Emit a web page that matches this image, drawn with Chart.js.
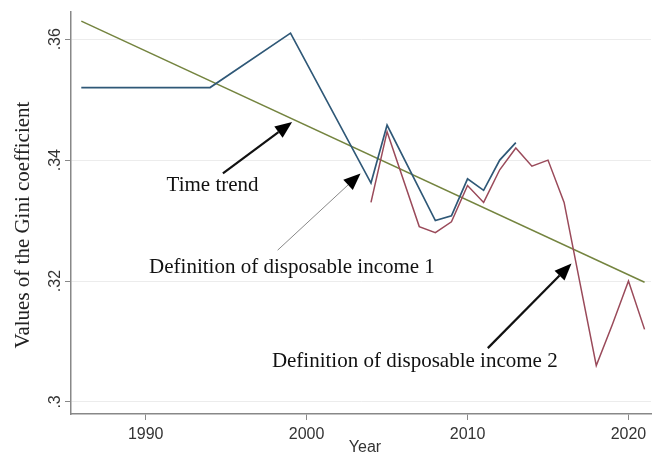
<!DOCTYPE html>
<html>
<head>
<meta charset="utf-8">
<script src="https://cdn.jsdelivr.net/npm/chart.js@4.4.1/dist/chart.umd.min.js"></script>
<style>
  html, body { margin: 0; padding: 0; background: #fff; }
</style>
</head>
<body>
<canvas id="gini" width="652" height="457"></canvas>
<script>
// definition 1 (blue)
const blueYears = [1986, 1994, 1999, 2004, 2005, 2008, 2009, 2010, 2011, 2012, 2013];
const blueGini  = [0.352, 0.352, 0.361, 0.3362, 0.3458, 0.330, 0.3308, 0.3369, 0.335, 0.340, 0.3429];
// definition 2 (red)
const redYears = [2004, 2005, 2007, 2008, 2009, 2010, 2011, 2012, 2013, 2014, 2015, 2016, 2017, 2018, 2019, 2020, 2021];
const redGini  = [0.333, 0.3447, 0.329, 0.328, 0.3298, 0.3358, 0.333, 0.3384, 0.342, 0.339, 0.340, 0.333, 0.3195, 0.306, 0.3128, 0.320, 0.312];
// linear time trend
const trendYears = [1986, 2021];
const trendGini  = [0.363, 0.3198];

const yearTicks = [1990, 2000, 2010, 2020];
const giniTicks = [0.30, 0.32, 0.34, 0.36];

function pts(xs, ys) {
  return xs.map(function (x, i) { return { x: x, y: ys[i] }; });
}

// labels + arrows, placed in data units
const notes = [
  { text: 'Time trend', x: 1991.3, y: 0.3349, align: 'left',
    from: [1994.8, 0.3378], to: [1999.1, 0.3463], shaft: '#111', lw: 2.2 },
  { text: 'Definition of disposable income 1', x: 2007.97, y: 0.3213, align: 'right',
    from: [1998.2, 0.3251], to: [2003.35, 0.3378], shaft: '#888', lw: 1 },
  { text: 'Definition of disposable income 2', x: 2015.6, y: 0.3058, align: 'right',
    from: [2011.26, 0.3089], to: [2016.46, 0.3229], shaft: '#111', lw: 2.2 }
];

const extras = {
  id: 'extras',
  afterDraw: function (chart) {
    const ctx = chart.ctx;
    const xs = chart.scales.x, ys = chart.scales.y;
    ctx.save();
    // y tick labels, rotated like stata does
    ctx.fillStyle = '#333';
    ctx.font = '16px "Liberation Sans", Arial, sans-serif';
    ctx.textAlign = 'center';
    ctx.textBaseline = 'middle';
    giniTicks.forEach(function (v) {
      ctx.save();
      ctx.translate(56, ys.getPixelForValue(v));
      ctx.rotate(-Math.PI / 2);
      ctx.fillText(String(Number(v.toFixed(2))).replace(/^0/, ''), 0, 0);
      ctx.restore();
    });
    // axis titles
    ctx.save();
    ctx.font = '21px "Liberation Serif", "Times New Roman", serif';
    ctx.fillStyle = '#222';
    ctx.translate(23, 225);
    ctx.rotate(-Math.PI / 2);
    ctx.fillText('Values of the Gini coefficient', 0, 0);
    ctx.restore();
    ctx.font = '16px "Liberation Sans", Arial, sans-serif';
    ctx.fillText('Year', 365, 448);

    // annotations
    notes.forEach(function (n) {
      const x0 = xs.getPixelForValue(n.from[0]), y0 = ys.getPixelForValue(n.from[1]);
      const x1 = xs.getPixelForValue(n.to[0]), y1 = ys.getPixelForValue(n.to[1]);
      const a = Math.atan2(y1 - y0, x1 - x0);
      const hl = 17, hw = 7;
      const bx = x1 - hl * Math.cos(a), by = y1 - hl * Math.sin(a);
      ctx.strokeStyle = n.shaft;
      ctx.lineWidth = n.lw;
      ctx.beginPath();
      ctx.moveTo(x0, y0);
      ctx.lineTo(bx, by);
      ctx.stroke();
      ctx.fillStyle = '#000';
      ctx.beginPath();
      ctx.moveTo(x1, y1);
      ctx.lineTo(bx + hw * Math.sin(a), by - hw * Math.cos(a));
      ctx.lineTo(bx - hw * Math.sin(a), by + hw * Math.cos(a));
      ctx.closePath();
      ctx.fill();

      ctx.font = '21px "Liberation Serif", "Times New Roman", serif';
      ctx.fillStyle = '#111';
      ctx.textAlign = n.align;
      ctx.textBaseline = 'alphabetic';
      ctx.fillText(n.text, xs.getPixelForValue(n.x), ys.getPixelForValue(n.y));
    });
    ctx.restore();
  }
};

const chart = new Chart(document.getElementById('gini'), {
  type: 'line',
  data: {
    datasets: [
      { label: 'Definition 1', data: pts(blueYears, blueGini), borderColor: '#2f5877', borderWidth: 1.7 },
      { label: 'Definition 2', data: pts(redYears, redGini), borderColor: '#9a4a5a', borderWidth: 1.5 },
      { label: 'Time trend', data: pts(trendYears, trendGini), borderColor: '#74843f', borderWidth: 1.5 }
    ]
  },
  options: {
    responsive: false,
    animation: false,
    layout: { padding: { top: 12, right: 1, left: 0, bottom: 0 } },
    elements: { point: { radius: 0 }, line: { tension: 0 } },
    plugins: { legend: { display: false }, tooltip: { enabled: false } },
    scales: {
      x: {
        type: 'linear',
        min: 1985.36,
        max: 2021.4,
        afterBuildTicks: function (s) { s.ticks = yearTicks.map(function (v) { return { value: v }; }); },
        afterFit: function (s) { s.height = 43; },
        grid: { drawOnChartArea: false, drawTicks: true, tickLength: 6, tickColor: '#888' },
        border: { color: '#888', width: 1.5 },
        ticks: {
          color: '#333', padding: 5, maxRotation: 0,
          font: { family: '"Liberation Sans", Arial, sans-serif', size: 16 },
          callback: function (v) { return String(v); }
        }
      },
      y: {
        min: 0.298,
        max: 0.3645,
        afterBuildTicks: function (s) { s.ticks = giniTicks.map(function (v) { return { value: v }; }); },
        afterFit: function (s) { s.width = 71; },
        grid: { color: '#ececec', lineWidth: 1, drawTicks: true, tickLength: 6, tickColor: '#888' },
        border: { color: '#888', width: 1.5 },
        ticks: { display: false }
      }
    }
  },
  plugins: [extras]
});
</script>
</body>
</html>
